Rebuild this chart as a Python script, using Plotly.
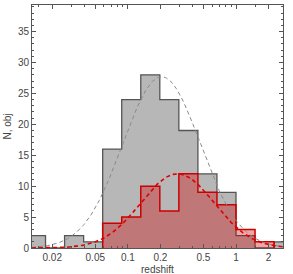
import numpy as np
import plotly.graph_objects as go

# Histogram bin edges (log-spaced, factor 1.5) and counts
bin_edges = [0.01156, 0.01734, 0.02601, 0.03902, 0.05853, 0.08779, 0.13169,
             0.19753, 0.29630, 0.44444, 0.66667, 1.0, 1.5, 2.25, 3.375]
all_counts = [2, 0, 2, 1, 16, 24, 28, 24, 19, 12, 9, 2, 0, 1]
sub_counts = [0, 0, 0, 0, 4, 5, 10, 6, 12, 9, 7, 3, 1, 0]

# Gaussian (in log z) fit parameters
gray_fit = dict(amp=27.7, mu=-0.688, sigma=0.36)
red_fit = dict(amp=12.0, mu=-0.541, sigma=0.34)

x_ticks = [0.02, 0.05, 0.1, 0.2, 0.5, 1, 2]
x_tick_text = ["0.02", "0.05", "0.1", "0.2", "0.5", "1", "2"]
x_minor = [0.015, 0.03, 0.04, 0.06, 0.07, 0.08, 0.09, 0.3, 0.4, 0.6, 0.7, 0.8, 0.9, 1.5, 3]
y_ticks = [0, 5, 10, 15, 20, 25, 30, 35]

fig = go.Figure()

# gray histogram
gx = bin_edges
gy = all_counts + [all_counts[-1]]
fig.add_trace(go.Scatter(x=gx, y=gy, mode="lines", line=dict(shape="hv", color="#555555", width=1.3),
                         fill="tozeroy", fillcolor="#b7b7b7", hoverinfo="skip"))

# red histogram (starting where nonzero)
first = next(i for i, v in enumerate(sub_counts) if v > 0)
last = max(i for i, v in enumerate(sub_counts) if v > 0)
rx = [bin_edges[first]] + bin_edges[first:last + 2]
ry = [0] + sub_counts[first:last + 1] + [0]
fig.add_trace(go.Scatter(x=rx, y=ry, mode="lines", line=dict(shape="hv", color="#cc0000", width=1.5),
                         fill="toself", fillcolor="rgba(205,0,0,0.35)", hoverinfo="skip"))

lz = np.linspace(np.log10(0.013), np.log10(2.72), 300)
zz = 10 ** lz

def gauss(p):
    return p["amp"] * np.exp(-(lz - p["mu"]) ** 2 / (2 * p["sigma"] ** 2))

fig.add_trace(go.Scatter(x=zz, y=gauss(gray_fit), mode="lines",
                         line=dict(color="#8a8a8a", width=1, dash="4px,3px"), hoverinfo="skip"))
fig.add_trace(go.Scatter(x=zz, y=gauss(red_fit), mode="lines",
                         line=dict(color="#e00000", width=1.6, dash="4px,3px"), hoverinfo="skip"))

axis_font = dict(family="Liberation Sans", size=10, color="#444444")
fig.update_layout(
    width=293, height=274,
    margin=dict(l=32, r=10, t=5, b=26, autoexpand=False),
    paper_bgcolor="white", plot_bgcolor="white",
    showlegend=False,
    font=axis_font,
    xaxis=dict(type="log", range=[np.log10(0.013), np.log10(2.72)], automargin=False,
               tickvals=x_ticks, ticktext=x_tick_text, ticks="inside", ticklen=4,
               tickcolor="#555555", showline=True, linecolor="#555555", linewidth=1,
               mirror="allticks", showgrid=False, zeroline=False, ticklabelstandoff=0,
               minor=dict(tickvals=x_minor, ticks="inside", ticklen=2, tickcolor="#555555"),
               tickfont=axis_font),
    yaxis=dict(range=[0, 39.3], tickvals=y_ticks, ticks="inside", ticklen=4, automargin=False,
               tickcolor="#555555", showline=True, linecolor="#555555", linewidth=1,
               mirror="allticks", showgrid=False, zeroline=False,
               minor=dict(dtick=1, ticks="inside", ticklen=2, tickcolor="#555555"),
               title=dict(text="N, obj", standoff=4, font=axis_font), tickfont=axis_font),
    annotations=[dict(text="redshift", xref="paper", yref="paper", x=0.5, y=-0.089,
                      xanchor="center", yanchor="middle", showarrow=False, font=axis_font,
                      borderpad=0)],
)

fig.write_html("out.html", config={"displayModeBar": False},
               post_script="document.body.style.margin='0';document.body.style.overflow='hidden';")
